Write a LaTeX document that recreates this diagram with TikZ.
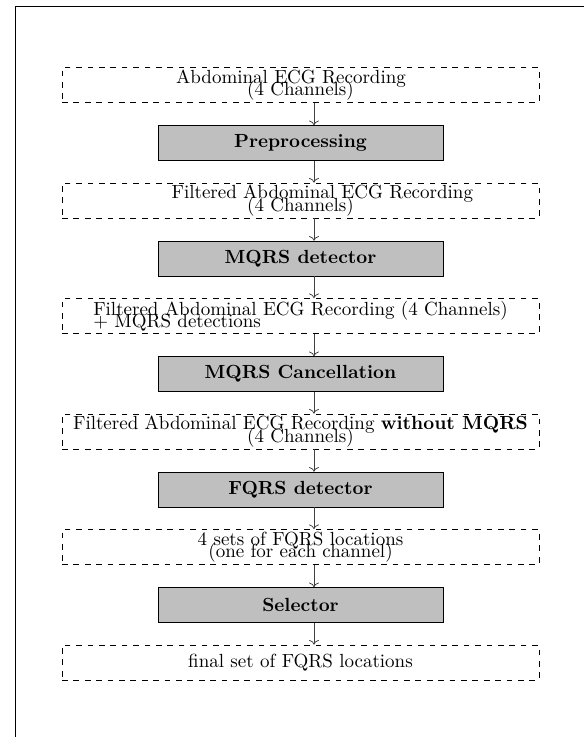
\documentclass[tikz,border=0pt]{standalone}
\usetikzlibrary{arrows.meta}
\begin{document}
\begin{tikzpicture}[x=0.5263pt,y=-0.5263pt,
  databox/.style={draw,dashed,line width=0.4pt,minimum width=251pt,minimum height=18.4pt,inner sep=0pt,align=center},
  procbox/.style={draw,fill=lightgray,line width=0.4pt,minimum width=150pt,minimum height=18.3pt,inner sep=0pt,font=\bfseries},
  flow/.style={draw=black!75,line width=0.4pt,->}]
\useasboundingbox (0,0) rectangle (584,737);
\draw[line width=0.55pt] (15.5,737) -- (15.5,6.5) -- (584,6.5);
\node[databox] (d1) at (300.5,85) {Abdominal ECG Recording\hspace*{10pt}\\[-5.6pt](4 Channels)};
\node[procbox] (g1) at (300.5,143) {Preprocessing};
\node[databox] (d2) at (300.5,200.5) {\hspace*{23pt}Filtered Abdominal ECG Recording\\[-5.6pt](4 Channels)};
\node[procbox] (g2) at (300.5,258.5) {MQRS detector};
\node[databox,align=left] (d3) at (300.5,316) {Filtered Abdominal ECG Recording (4 Channels)\\[-5.6pt]+ MQRS detections};
\node[procbox] (g3) at (300.5,374) {MQRS Cancellation};
\node[databox] (d4) at (300.5,431.5) {Filtered Abdominal ECG Recording \textbf{without MQRS}\\[-5.6pt](4 Channels)};
\node[procbox] (g4) at (300.5,489.5) {FQRS detector};
\node[databox] (d5) at (300.5,547) {4 sets of FQRS locations\\[-5.6pt](one for each channel)};
\node[procbox] (g5) at (300.5,605) {Selector};
\node[databox] (d6) at (300.5,662.5) {final set of FQRS locations};
\foreach \a/\b in {d1/g1,g1/d2,d2/g2,g2/d3,d3/g3,g3/d4,d4/g4,g4/d5,d5/g5,g5/d6}
  \draw[flow] ([xshift=7.1pt]\a.south) -- ([xshift=7.1pt]\b.north);
\end{tikzpicture}
\end{document}
